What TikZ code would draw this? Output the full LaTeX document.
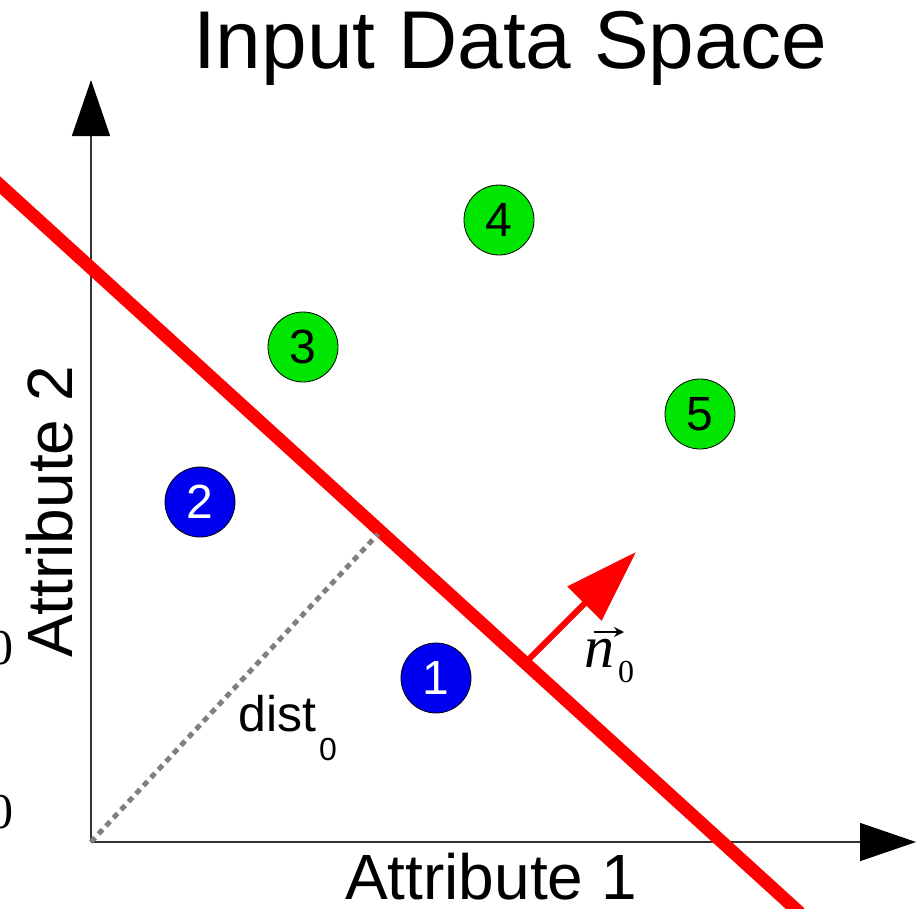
\documentclass[tikz,border=0pt]{standalone}
\usepackage{fontspec}
\setmainfont{Liberation Serif}
\setsansfont{Liberation Sans}
\usetikzlibrary{arrows.meta}
\definecolor{ptblue}{RGB}{0,0,240}
\definecolor{ptgreen}{RGB}{0,230,0}
\definecolor{dotgray}{RGB}{128,128,128}
\tikzset{
  axis/.style={line width=1.5pt, draw=black!80, -{Triangle[length=56pt,width=38pt,fill=black,color=black]}},
  pt/.style={circle, draw=black, line width=0.8pt, minimum size=70pt, inner sep=0pt,
             font=\sffamily\fontsize{48}{48}\selectfont},
  bluept/.style={pt, fill=ptblue, text=white},
  greenpt/.style={pt, fill=ptgreen, text=black},
  sep/.style={draw=red, line width=13pt},
  normal/.style={draw=red, line width=6pt, -{Triangle[length=73pt,width=47pt]}},
  distline/.style={draw=dotgray, line width=5pt, dash pattern=on 6pt off 5pt},
  lbl/.style={font=\sffamily\fontsize{64}{64}\selectfont, inner sep=0pt},
  vecarrow/.style={line width=2.4pt, -{Stealth[length=10pt,width=10pt]}},
}
\begin{document}
\begin{tikzpicture}[x=1pt,y=-1pt]
\useasboundingbox (0,0) rectangle (923,908);
% axes
\coordinate (O) at (91,842);
\coordinate (ytip) at (91,80);
\coordinate (xtip) at (916,842);
\draw[axis] (O) -- (ytip);
\draw[axis] (O) -- (xtip);
% separating line
\coordinate (s1) at (-10,176);
\coordinate (s2) at (800,913);
\draw[sep] (s1) -- (s2);
% distance
\coordinate (foot) at (378,534);
\draw[distline] (O) -- (foot);
% normal
\coordinate (nbase) at (527,661);
\coordinate (ntip) at (636,552);
\draw[normal] (nbase) -- (ntip);
% points
\node[bluept] (p1) at (436,678) {1};
\node[bluept] (p2) at (200,502) {2};
\node[greenpt] (p3) at (303,347) {3};
\node[greenpt] (p4) at (499,220) {4};
\node[greenpt] (p5) at (700,414) {5};
% labels
\node[font=\sffamily\fontsize{82}{82}\selectfont, inner sep=0pt, anchor=base] (title) at (510,68) {Input Data Space};
\node[lbl, anchor=base] (xlab) at (491,899) {Attribute 1};
\node[lbl, rotate=90] (ylab) at (50,512) {Attribute 2};
\node[font=\sffamily\fontsize{50}{50}\selectfont, inner sep=0pt, anchor=base west] (dist) at (238,731) {dist\hspace{3pt}\raisebox{-29pt}{\fontsize{32}{32}\selectfont 0}};
\node[font=\fontsize{60}{60}\selectfont, inner sep=0pt, anchor=base west] (nlab) at (584,667) {\itshape n\/\hspace{4pt}\raisebox{-15pt}{\upshape\fontsize{32}{32}\selectfont 0}};
\coordinate (va) at (594,632);
\coordinate (vb) at (624,632);
\draw[vecarrow] (va) -- (vb);
\node[font=\fontsize{50}{50}\selectfont, inner sep=0pt, anchor=east] (z1) at (14,648) {0};
\node[font=\fontsize{50}{50}\selectfont, inner sep=0pt, anchor=east] (z2) at (14,812) {0};
\end{tikzpicture}
\end{document}
